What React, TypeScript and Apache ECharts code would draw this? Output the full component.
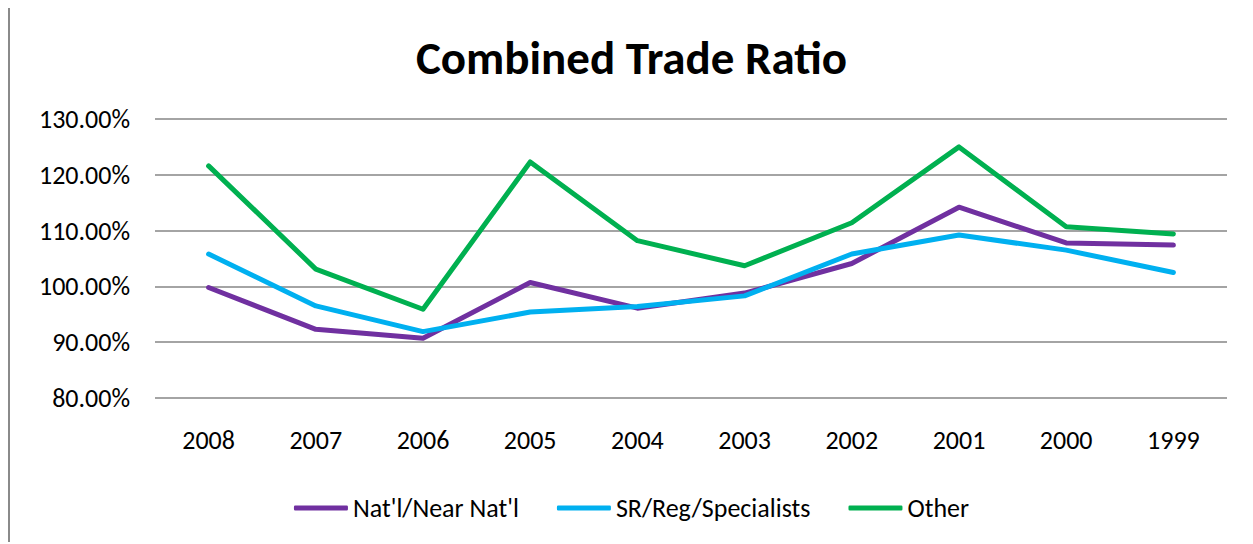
import React, { useEffect, useRef } from "react";
import * as echarts from "echarts";

const categories = ["2008", "2007", "2006", "2005", "2004", "2003", "2002", "2001", "2000", "1999"];
const natl = [99.8, 92.3, 90.7, 100.7, 96.1, 98.8, 104.1, 114.2, 107.8, 107.4];
const srReg = [105.8, 96.5, 91.9, 95.4, 96.4, 98.3, 105.8, 109.2, 106.5, 102.5];
const other = [121.6, 103.1, 95.9, 122.3, 108.2, 103.7, 111.4, 125.0, 110.7, 109.4];
const seriesNames = ["Nat'l/Near Nat'l", "SR/Reg/Specialists", "Other"];
const colors = ["#7030A0", "#00B0F0", "#00B050"];

const FONT = "Carlito, 'Open Sans', sans-serif";

export default function App() {
  const ref = useRef<HTMLDivElement>(null);
  useEffect(() => {
    if (!ref.current) return;
    const chart = echarts.init(ref.current, null, { renderer: "svg" });
    const data = [natl, srReg, other];
    chart.setOption({
      animation: false,
      title: {
        text: "Combined Trade Ratio",
        left: "center",
        top: 21,
        textStyle: { fontFamily: FONT, fontSize: 47, fontWeight: "bold", color: "#000" },
      },
      legend: {
        top: 482,
        left: "center",
        itemWidth: 54,
        itemHeight: 5,
        itemGap: 38,
        icon: "roundRect",
        textStyle: { fontFamily: FONT, fontSize: 26, color: "#000" },
        data: seriesNames,
      },
      grid: { left: 145, right: 26, top: 111, bottom: 144 },
      xAxis: {
        type: "category",
        data: categories,
        boundaryGap: true,
        axisLine: { show: false },
        axisTick: { show: false },
        axisLabel: { fontFamily: FONT, fontSize: 26, color: "#000", margin: 29 },
      },
      yAxis: {
        type: "value",
        min: 80,
        max: 130,
        interval: 10,
        axisLine: { show: false },
        axisTick: { show: false },
        axisLabel: {
          fontFamily: FONT,
          fontSize: 26,
          color: "#000",
          margin: 25,
          formatter: (v: number) => v.toFixed(2) + "%",
        },
        splitLine: { lineStyle: { color: "#868686", width: 1.5 } },
      },
      series: seriesNames.map((name, i) => ({
        name,
        type: "line",
        data: data[i],
        symbol: "none",
        lineStyle: { color: colors[i], width: 5, cap: "round", join: "round" },
        itemStyle: { color: colors[i] },
      })),
    });
    return () => chart.dispose();
  }, []);
  return (
    <div
      ref={ref}
      style={{
        width: 1245,
        height: 536,
        borderLeft: "2px solid #8a8a8a",
        borderTop: "2px solid #8a8a8a",
        boxSizing: "border-box",
        marginTop: -2,
        background: "#fff",
      }}
    />
  );
}
